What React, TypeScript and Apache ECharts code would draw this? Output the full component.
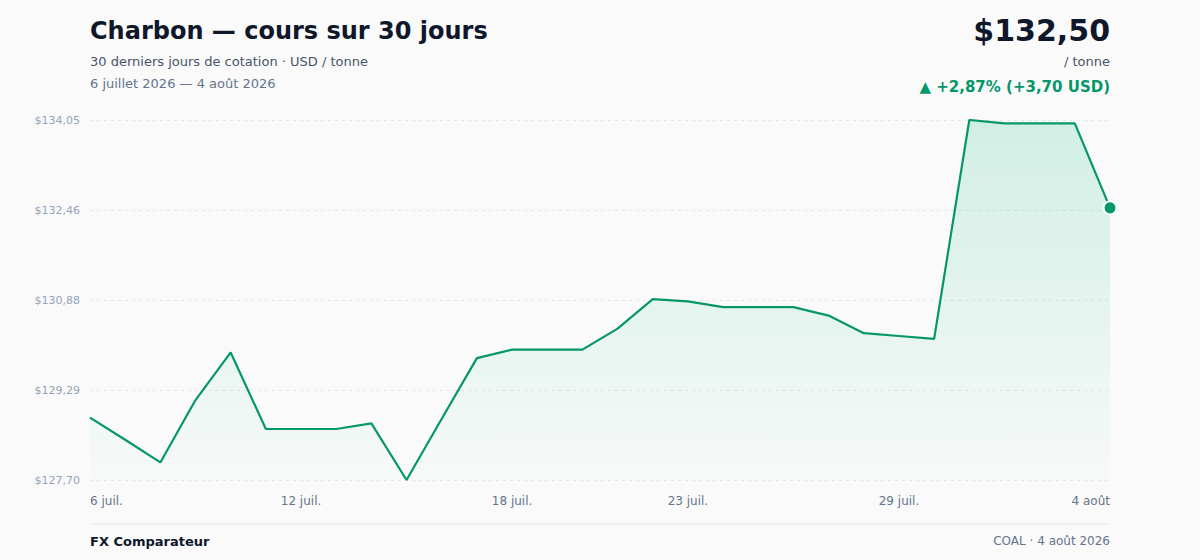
import React, { useEffect, useRef } from "react";
import * as echarts from "echarts";

const days: string[] = [
  "6 juil.", "7 juil.", "8 juil.", "9 juil.", "10 juil.", "11 juil.", "12 juil.", "13 juil.",
  "14 juil.", "15 juil.", "16 juil.", "17 juil.", "18 juil.", "19 juil.", "20 juil.", "21 juil.",
  "22 juil.", "23 juil.", "24 juil.", "25 juil.", "26 juil.", "27 juil.", "28 juil.", "29 juil.",
  "30 juil.", "31 juil.", "1 août", "2 août", "3 août", "4 août",
];

const prices: number[] = [
  128.8, 128.41, 128.01, 129.11, 129.95, 128.6, 128.6, 128.6,
  128.7, 127.7, 128.78, 129.85, 130.0, 130.0, 130.0, 130.37,
  130.89, 130.85, 130.75, 130.75, 130.75, 130.6, 130.29, 130.24,
  130.19, 134.05, 133.99, 133.99, 133.99, 132.5,
];

const shownLabelIndices: number[] = [0, 6, 12, 17, 23, 29];
const yTicks: number[] = [127.7, 129.2875, 130.875, 132.4625, 134.05];

const GREEN = "#059669";
const FONT = "DejaVu Sans";

const fmtFr = (v: number) => v.toFixed(2).replace(".", ",");

export default function App() {
  const ref = useRef<HTMLDivElement>(null);

  useEffect(() => {
    document.body.style.margin = "0";
    if (!ref.current) return;
    const chart = echarts.init(ref.current, null, { renderer: "svg" });
    const last = prices[prices.length - 1];
    const first = prices[0];
    const diff = last - first;
    const pct = (diff / first) * 100;
    const yMin = Math.min(...prices);
    const yMax = Math.max(...prices);

    chart.setOption({
      animation: false,
      backgroundColor: "#fafafa",
      textStyle: { fontFamily: FONT },
      grid: { left: 90, right: 90, top: 120, bottom: 80, containLabel: false },
      xAxis: {
        type: "category",
        data: days,
        boundaryGap: false,
        axisLine: { show: false },
        axisTick: { show: false },
        axisLabel: {
          interval: (i: number) => shownLabelIndices.includes(i),
          color: "#64748b",
          fontSize: 12,
          fontFamily: FONT,
          margin: 15,
          alignMinLabel: "left",
          alignMaxLabel: "right",
        },
        splitLine: { show: false },
      },
      yAxis: {
        type: "value",
        min: yMin,
        max: yMax,
        axisLine: { show: false },
        axisTick: { show: false, customValues: yTicks },
        axisLabel: {
          customValues: yTicks,
          color: "#94a3b8",
          fontSize: 11,
          fontFamily: FONT,
          margin: 10,
          formatter: (v: number) => "$" + fmtFr(v),
        },
        splitLine: {
          show: true,
          lineStyle: { color: "#e5e7eb", type: [3, 4], width: 1 },
        },
      },
      series: [
        {
          type: "line",
          data: prices,
          showSymbol: false,
          symbol: "none",
          lineStyle: { color: GREEN, width: 2.2 },
          areaStyle: {
            color: new echarts.graphic.LinearGradient(0, 0, 0, 1, [
              { offset: 0, color: "rgba(16,185,129,0.25)" },
              { offset: 1, color: "rgba(16,185,129,0.02)" },
            ]),
          },
          z: 2,
        },
        {
          type: "scatter",
          data: [[prices.length - 1, last]],
          symbol: "circle",
          symbolSize: 13,
          itemStyle: { color: GREEN, borderColor: "#ffffff", borderWidth: 2, opacity: 1 },
          z: 3,
        },
      ],
      graphic: [
        {
          type: "text",
          left: 90,
          top: 19,
          style: {
            text: "Charbon — cours sur 30 jours",
            fontSize: 24,
            fontWeight: "bold",
            fill: "#0f172a",
            fontFamily: FONT,
          },
        },
        {
          type: "text",
          left: 90,
          top: 55,
          style: {
            text: "30 derniers jours de cotation · USD / tonne",
            fontSize: 13,
            fill: "#475569",
            fontFamily: FONT,
          },
        },
        {
          type: "text",
          left: 90,
          top: 77,
          style: {
            text: "6 juillet 2026 — 4 août 2026",
            fontSize: 13,
            fill: "#64748b",
            fontFamily: FONT,
          },
        },
        {
          type: "text",
          right: 90,
          top: 15,
          style: {
            text: "$" + fmtFr(last),
            fontSize: 30,
            fontWeight: "bold",
            fill: "#0f172a",
            fontFamily: FONT,
          },
        },
        {
          type: "text",
          right: 90,
          top: 55,
          style: {
            text: "/ tonne",
            fontSize: 13,
            fill: "#475569",
            fontFamily: FONT,
          },
        },
        {
          type: "text",
          right: 90,
          top: 79,
          style: {
            text: "▲ +" + fmtFr(pct) + "% (+" + fmtFr(diff) + " USD)",
            fontSize: 15,
            fontWeight: "bold",
            fill: GREEN,
            fontFamily: FONT,
          },
        },
        {
          type: "line",
          shape: { x1: 90, y1: 524, x2: 1110, y2: 524 },
          style: { stroke: "#e5e7eb", lineWidth: 1 },
        },
        {
          type: "text",
          left: 90,
          top: 535,
          style: {
            text: "FX Comparateur",
            fontSize: 13,
            fontWeight: "bold",
            fill: "#0f172a",
            fontFamily: FONT,
          },
        },
        {
          type: "text",
          right: 90,
          top: 535,
          style: {
            text: "COAL · 4 août 2026",
            fontSize: 12,
            fill: "#64748b",
            fontFamily: FONT,
          },
        },
      ],
    });
    return () => chart.dispose();
  }, []);

  return <div ref={ref} style={{ width: 1200, height: 560 }} />;
}
